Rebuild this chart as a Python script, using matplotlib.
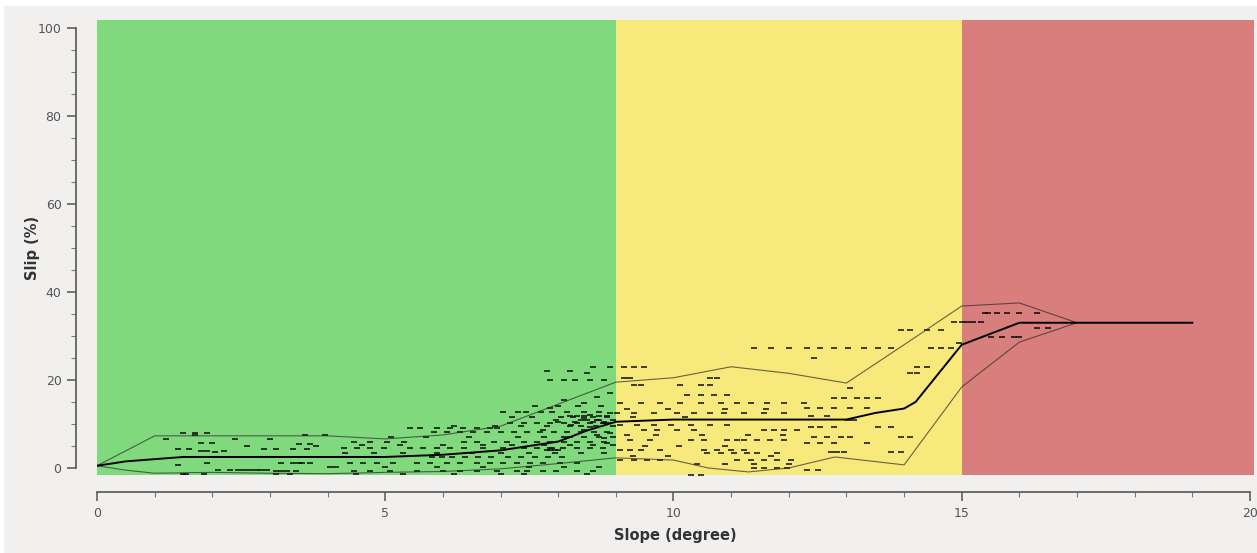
import matplotlib
matplotlib.use("Agg")
import matplotlib.pyplot as plt
from matplotlib.patches import Rectangle
import numpy as np

# slip vs slope: mean curve, min/max envelope and raw samples
zone_edges = [0, 9, 15, 20.07]
zone_colors = ['#80da7d', '#f7e97b', '#d87e7d']

mean_x = [0, 0.5, 1, 1.5, 5, 6, 7, 8, 8.5, 9, 10, 13, 13.5, 14, 14.2, 15, 16, 17, 19]
mean_y = [0.5, 1.5, 2, 2.5, 2.5, 3, 4, 6, 8.5, 10.5, 11, 11, 12.5, 13.5, 15, 28, 33, 33, 33]

upper_x = [0, 1, 4, 5, 6, 7, 8, 9, 10, 11, 12, 13, 14, 15, 16, 17]
upper_y = [0.5, 7.3, 7.3, 6.6, 7.5, 9.5, 14.5, 19.5, 20.5, 23, 21.5, 19.3, 28, 36.8, 37.5, 33]

lower_x = [0, 0.5, 1, 2, 3, 4, 5, 6, 7, 8, 9, 10, 10.6, 11.3, 12, 12.8, 14, 15, 16, 17]
lower_y = [0.5, -0.5, -1.2, -1, -1.2, -1.3, -1, -0.8, -0.2, 1, 2.3, 1.8, 0, -0.9, 0, 2.5, 0.7, 18.4, 28.6, 33]

# raw samples, grouped by slip level
sample_rows = [
    (8.0, [1.5, 1.7, 1.9]),
    (7.5, [1.7, 3.6, 3.95]),
    (6.5, [1.2, 2.4, 3.0]),
    (5.7, [1.8, 2.0]),
    (5.5, [3.5, 3.7]),
    (5.0, [2.6, 3.8]),
    (4.3, [1.4, 1.6, 2.9, 3.1, 3.4, 3.65]),
    (3.9, [1.8, 1.9, 2.2]),
    (3.6, [2.05]),
    (1.1, [1.9, 3.2, 3.4, 3.5, 3.55, 3.7]),
    (0.7, [1.4]),
    (0.2, [4.05, 4.15]),
    (-0.5, [2.1, 2.3, 2.45, 2.55, 2.65, 2.75, 2.85, 2.95]),
    (-0.8, [3.1, 3.2, 3.3, 3.45]),
    (-1.4, [1.5, 1.55, 1.85, 3.1, 3.35]),
    (23.0, [8.6, 8.9, 9.14, 9.31, 9.48]),
    (22.0, [7.8, 8.2]),
    (21.5, [8.5]),
    (20.0, [7.86, 8.1, 8.3, 8.55, 8.8]),
    (20.4, [9.14, 9.25, 10.64, 10.76]),
    (18.9, [9.31, 9.43, 10.12, 10.47, 10.64]),
    (17.0, [8.9]),
    (16.6, [10.24, 10.47, 10.7, 10.93]),
    (16.2, [8.67]),
    (15.5, [8.1]),
    (14.7, [8.45, 9.08, 9.43, 9.77, 10.12, 10.47, 10.82, 11.1, 11.34, 11.63, 11.91, 12.26]),
    (14.0, [7.6, 8.0, 8.35, 8.75]),
    (13.6, [7.86]),
    (13.3, [9.2, 9.9, 10.9, 11.6]),
    (12.8, [7.05, 7.3, 7.45, 7.7, 7.9, 8.15, 8.45, 8.7]),
    (12.4, [8.9, 9.02, 9.31, 9.66, 10.06, 10.35, 10.64, 10.87, 11.22, 11.57, 11.91]),
    (12.1, [8.55]),
    (11.9, [8.2, 8.45, 8.7, 8.85]),
    (11.7, [8.33]),
    (11.6, [9.3, 10.2]),
    (11.5, [7.2, 7.55, 8.05, 8.25, 8.6, 8.85]),
    (11.3, [8.45]),
    (11.0, [7.97, 8.67]),
    (10.8, [8.4, 8.5, 8.7, 8.95]),
    (10.5, [8.0, 8.3, 8.6, 8.8]),
    (10.2, [7.17, 7.4, 7.64, 7.86, 8.1, 8.33, 8.56, 8.78, 8.79, 8.9]),
    (9.8, [8.22, 9.08, 9.37, 9.66, 9.95, 10.3, 10.64, 10.93]),
    (9.5, [6.2, 6.9, 7.35, 7.8, 8.2, 8.4, 8.65, 8.95]),
    (9.3, [8.56]),
    (9.0, [5.43, 5.6, 5.9, 6.13, 6.35, 6.6, 6.82, 6.94]),
    (8.7, [7.74, 8.45]),
    (8.6, [9.48, 9.72, 10.06, 10.35, 11.57, 11.74, 11.91, 12.15]),
    (8.2, [5.84, 6.07, 6.3, 6.53, 6.77, 7.0, 7.23, 7.46, 7.69, 7.92, 8.15, 8.39, 8.62, 8.85]),
    (7.9, [8.9]),
    (7.5, [8.67, 9.2, 9.7, 10.5, 11.3, 11.9]),
    (7.1, [8.1]),
    (7.0, [5.1, 5.7, 6.45, 7.3, 7.75, 8.2, 8.45, 8.7, 8.95]),
    (6.7, [8.79]),
    (6.4, [9.25, 9.6, 10.3, 10.53, 10.93, 11.1, 11.22, 11.45, 11.68, 11.91]),
    (6.0, [4.45, 4.74, 5.03, 5.32, 6.36, 6.59, 6.88, 7.11, 7.4, 7.63, 7.86, 8.1, 8.33, 8.56, 8.79]),
    (5.6, [8.85]),
    (5.2, [4.6, 5.25, 6.0, 6.7, 7.2, 7.75, 8.2, 8.6, 8.95]),
    (5.0, [9.5, 10.1, 10.9]),
    (4.5, [4.28, 4.51, 4.74, 4.97, 5.43, 5.66, 5.9, 6.13, 6.36, 6.7, 7.05, 7.4, 7.63, 7.86, 7.9, 8.09, 8.32, 8.55, 8.78]),
    (4.1, [7.86, 9.08, 9.25, 9.43, 9.77, 10.53, 10.76, 10.99, 11.22]),
    (4.0, [7.8, 7.95, 8.0]),
    (3.5, [4.3, 4.8, 5.3, 5.9, 6.5, 7.0, 7.5, 7.95, 8.4, 8.8]),
    (3.3, [10.58, 10.82, 11.05, 11.28, 11.45, 11.8]),
    (2.7, [9.3, 9.9, 11.7]),
    (2.6, [5.81, 5.98, 6.15, 6.38, 6.61, 6.84, 7.13, 7.36, 7.6, 7.83, 8.06]),
    (1.8, [9.08, 9.31, 9.54, 9.77, 11.1, 11.34, 11.57, 11.8, 12.03]),
    (1.1, [4.39, 4.62, 4.86, 5.14, 5.55, 5.78, 6.07, 6.3, 6.59, 6.82, 7.05, 7.28, 7.51, 7.74, 8.03, 8.32]),
    (0.8, [10.4, 10.9, 11.4, 12.0]),
    (0.3, [5.0, 5.9, 6.7, 7.5, 8.1, 8.7]),
    (-0.1, [11.4, 11.57, 11.8, 11.97]),
    (-0.8, [4.45, 4.74, 5.09, 5.55, 6.01, 6.3, 6.59, 6.94, 7.28, 7.46, 7.74, 7.97, 8.32, 8.61]),
    (-1.3, [4.5, 5.3, 6.2, 7.0, 7.4, 8.5]),
    (-1.6, [10.3, 10.47]),
    (35.2, [15.4, 15.45, 15.62, 15.79, 16.0, 16.3]),
    (33.2, [14.86, 15.0, 15.1, 15.2, 15.33]),
    (31.8, [16.3, 16.5]),
    (31.4, [13.94, 14.11, 14.4, 14.64]),
    (29.8, [15.5, 15.7, 15.9, 16.0]),
    (28.4, [14.96]),
    (27.2, [11.4, 11.7, 12.0, 12.32, 12.55, 12.78, 13.02, 13.3, 13.54, 13.77, 14.46, 14.64, 14.81]),
    (24.9, [12.44]),
    (22.9, [14.23, 14.4]),
    (21.5, [14.11, 14.23]),
    (18.1, [13.07]),
    (15.8, [12.78, 12.96, 13.19, 13.36, 13.54]),
    (13.6, [12.32, 12.55, 12.78, 13.07, 13.36]),
    (11.7, [12.38, 12.67]),
    (10.9, [13.02, 13.13]),
    (9.4, [12.38, 12.55, 12.78, 13.54, 13.77]),
    (7.1, [12.44, 12.67, 12.9, 13.07, 13.94, 14.11]),
    (5.6, [12.32, 12.55, 12.78, 13.36]),
    (3.7, [12.73, 12.84, 12.96, 13.77, 13.94]),
    (-0.5, [12.32, 12.5]),
]
sample_x = [x for y, xs in sample_rows for x in xs]
sample_y = [y for y, xs in sample_rows for x in xs]

bg = '#f1f0ef'
fig = plt.figure(figsize=(12.57, 5.53), dpi=100, facecolor=bg)
# thin white margin along the top and left edges
fig.patches.append(Rectangle((0, 0.989), 1, 0.011, transform=fig.transFigure,
                             facecolor='white', edgecolor='none', zorder=0))
fig.patches.append(Rectangle((0, 0), 0.0035, 1, transform=fig.transFigure,
                             facecolor='white', edgecolor='none', zorder=0))

ax = fig.add_axes([97 / 1257, 1 - 475 / 553, 1157 / 1257, 455 / 553])
ax.set_facecolor(bg)
ax.set_xlim(0, 20.07)
ax.set_ylim(-1.6, 101.8)

for i, c in enumerate(zone_colors):
    ax.axvspan(zone_edges[i], zone_edges[i + 1], color=c, lw=0, zorder=0)

ax.plot(sample_x, sample_y, ls='none', marker='_', ms=4, mew=1.3,
        color='black', alpha=0.8, zorder=2)
ax.plot(upper_x, upper_y, color='#2a2a2a', lw=0.8, alpha=0.7, zorder=3)
ax.plot(lower_x, lower_y, color='#2a2a2a', lw=0.8, alpha=0.7, zorder=3)
ax.plot(mean_x, mean_y, color='black', lw=1.4, zorder=4)

for s in ['top', 'right']:
    ax.spines[s].set_visible(False)
ax.spines['left'].set_position(('outward', 15))
ax.spines['left'].set_bounds(0, 100)
ax.spines['bottom'].set_position(('outward', 12))
ax.spines['bottom'].set_bounds(0, 20)
for s in ['left', 'bottom']:
    ax.spines[s].set_color('#555555')
    ax.spines[s].set_linewidth(1.2)

ax.set_xticks([0, 5, 10, 15, 20])
ax.set_xticks(np.arange(0, 21, 1), minor=True)
ax.set_yticks([0, 20, 40, 60, 80, 100])
ax.set_yticks(np.arange(0, 101, 5), minor=True)
ax.tick_params(which='major', length=6.5, width=1.1, color='#555555',
               labelsize=9, labelcolor='#555555')
ax.tick_params(which='minor', length=3.5, width=0.8, color='#777777')
ax.tick_params(axis='x', which='major', pad=4.5)
ax.tick_params(axis='y', which='major', pad=4)

ax.set_xlabel('Slope (degree)', fontsize=10.5, fontweight='bold', color='#333333', labelpad=6)
ax.set_ylabel('Slip (%)', fontsize=10.5, fontweight='bold', color='#333333')
ax.yaxis.set_label_coords(-0.049, 0.5)

fig.savefig('out.png', dpi=100, facecolor=bg)
